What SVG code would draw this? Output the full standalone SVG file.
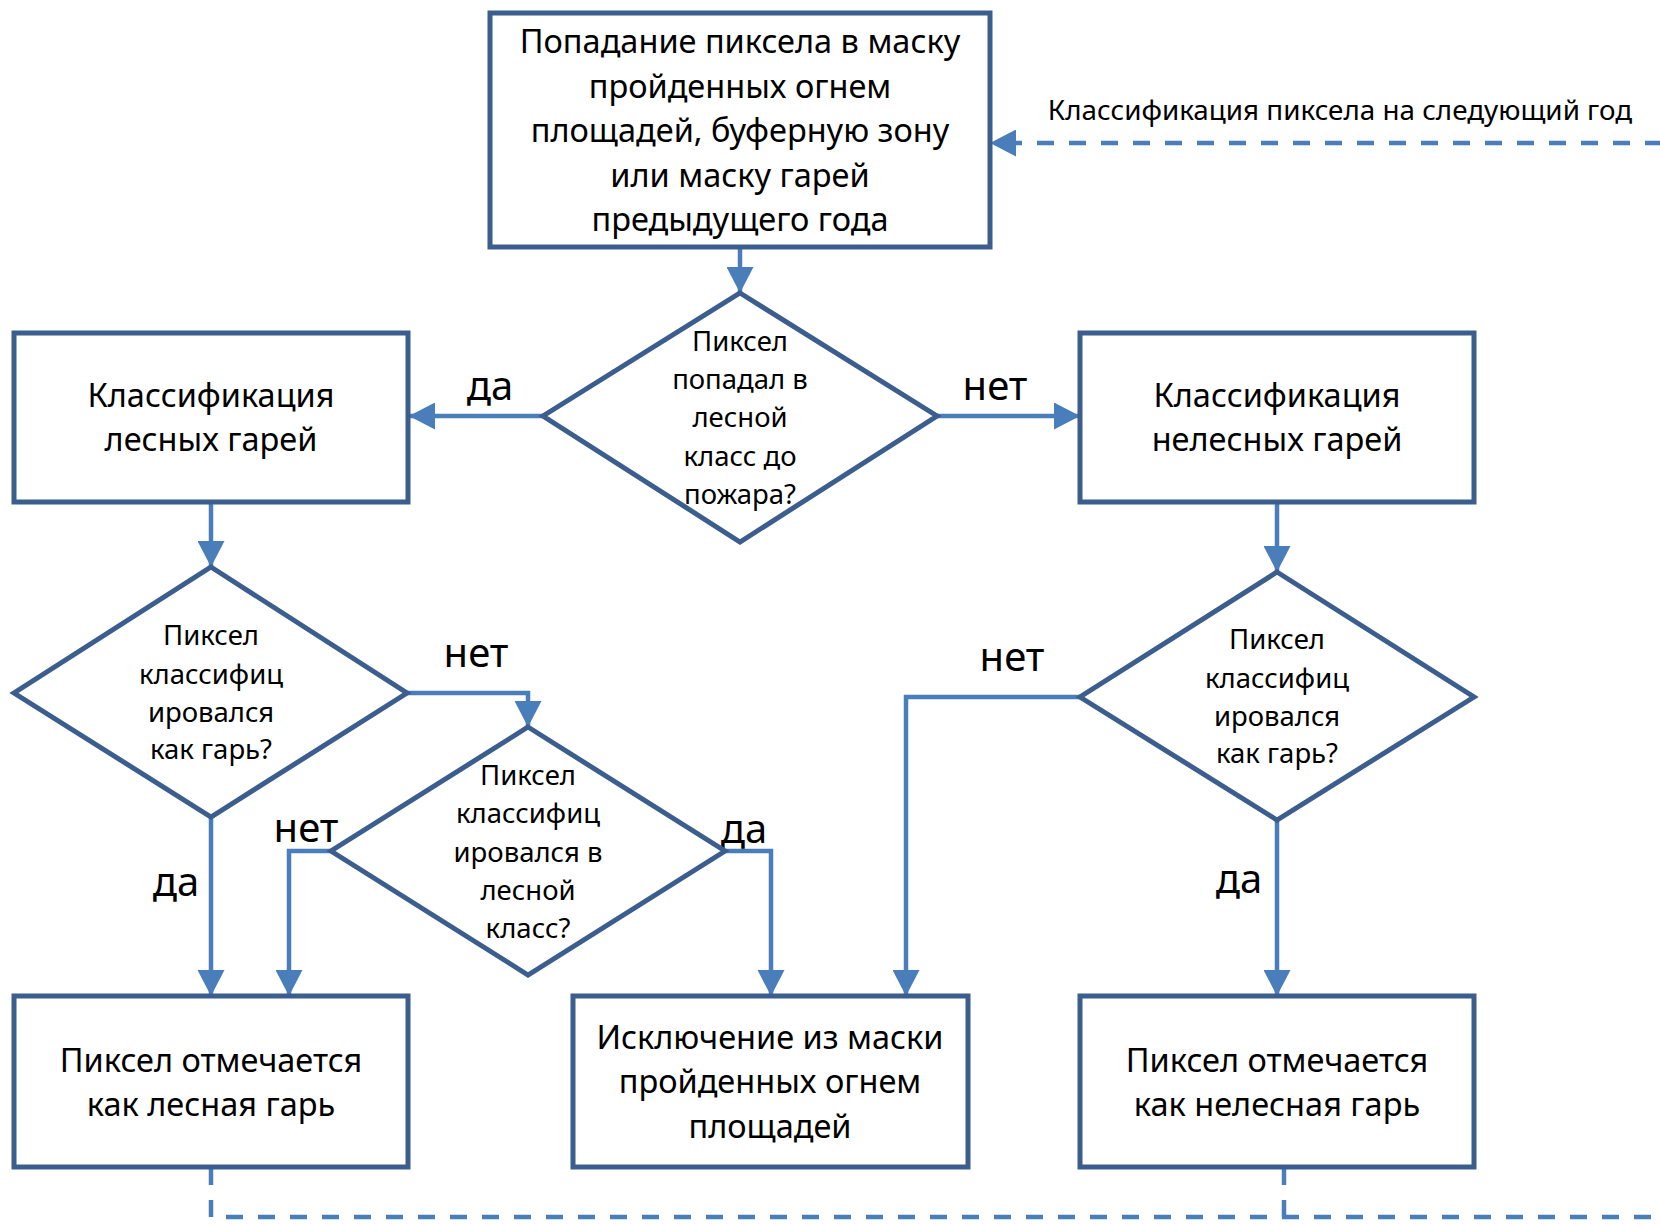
<svg xmlns="http://www.w3.org/2000/svg" width="1660" height="1224" viewBox="0 0 1660 1224">
<defs>
<style>
.n{fill:#fff;stroke:#3B5E8E;stroke-width:5;stroke-linejoin:miter}
.c{fill:none;stroke:#4A7EBB;stroke-width:4.5}
.d{fill:none;stroke:#4A7EBB;stroke-width:4.5;stroke-dasharray:17 15}
text{font-family:"Noto Sans","Open Sans","DejaVu Sans",sans-serif;fill:#000;text-anchor:middle}
.t1{font-size:32.5px}
.t2{font-size:27.5px}
.t3{font-size:27.8px}
.lb{font-size:40px}
</style>
<marker id="ah" viewBox="0 0 26 27" refX="26" refY="13.5" markerWidth="26" markerHeight="27" markerUnits="userSpaceOnUse" orient="auto">
<path d="M0,0 L26,13.5 L0,27 Z" fill="#4A7EBB"/>
</marker>
</defs>
<rect width="1660" height="1224" fill="#fff"/>

<g id="connectors">
<path class="c" d="M740,248 V293" marker-end="url(#ah)"/>
<path class="c" d="M543,416 H409" marker-end="url(#ah)"/>
<path class="c" d="M937,416 H1080" marker-end="url(#ah)"/>
<path class="c" d="M211,502 V567" marker-end="url(#ah)"/>
<path class="c" d="M407,693 H528 V727" marker-end="url(#ah)"/>
<path class="c" d="M211,817 V996" marker-end="url(#ah)"/>
<path class="c" d="M331,851 H289 V996" marker-end="url(#ah)"/>
<path class="c" d="M725,851 H771 V996" marker-end="url(#ah)"/>
<path class="c" d="M1277,502 V572" marker-end="url(#ah)"/>
<path class="c" d="M1080,697 H906 V996" marker-end="url(#ah)"/>
<path class="c" d="M1277,820 V996" marker-end="url(#ah)"/>
<path class="d" d="M211,1168 V1217 H1662"/>
<path class="d" d="M1284,1168 V1217"/>
<path class="d" d="M1662,143 H990" marker-end="url(#ah)"/>
<text class="lb" x="490" y="400">да</text>
<text class="lb" x="995" y="400">нет</text>
<text class="lb" x="476" y="667">нет</text>
<text class="lb" x="1012" y="671">нет</text>
<text class="lb" x="176" y="896">да</text>
<text class="lb" x="1239" y="893">да</text>
<text class="lb" x="306" y="842">нет</text>
<text class="lb" x="744" y="843">да</text>
<text class="t3" x="1340" y="120">Классификация пиксела на следующий год</text>
</g>

<g id="start">
<rect class="n" x="490" y="13" width="500" height="234"/>
<text class="t1" x="740" y="53">Попадание пиксела в маску</text>
<text class="t1" x="740" y="97.5">пройденных огнем</text>
<text class="t1" x="740" y="142">площадей, буферную зону</text>
<text class="t1" x="740" y="186.5">или маску гарей</text>
<text class="t1" x="740" y="231">предыдущего года</text>
</g>

<g id="q-forest-before">
<polygon class="n" points="740,293 937,416 740,542 543,416"/>
<text class="t2" x="740" y="351">Пиксел</text>
<text class="t2" x="740" y="389">попадал в</text>
<text class="t2" x="740" y="427">лесной</text>
<text class="t2" x="740" y="466">класс до</text>
<text class="t2" x="740" y="504">пожара?</text>
</g>

<g id="forest-class">
<rect class="n" x="14" y="333" width="394" height="169"/>
<text class="t1" x="211" y="407">Классификация</text>
<text class="t1" x="211" y="451">лесных гарей</text>
</g>

<g id="nonforest-class">
<rect class="n" x="1080" y="333" width="394" height="169"/>
<text class="t1" x="1277" y="407">Классификация</text>
<text class="t1" x="1277" y="451">нелесных гарей</text>
</g>

<g id="q-burn-forest">
<polygon class="n" points="211,567 407,693 211,817 14,693"/>
<text class="t2" x="211" y="645">Пиксел</text>
<text class="t2" x="211" y="684">классифиц</text>
<text class="t2" x="211" y="722">ировался</text>
<text class="t2" x="211" y="759">как гарь?</text>
</g>

<g id="q-forest-class">
<polygon class="n" points="528,727 725,851 528,975 331,851"/>
<text class="t2" x="528" y="785">Пиксел</text>
<text class="t2" x="528" y="823">классифиц</text>
<text class="t2" x="528" y="862">ировался в</text>
<text class="t2" x="528" y="900">лесной</text>
<text class="t2" x="528" y="938">класс?</text>
</g>

<g id="q-burn-nonforest">
<polygon class="n" points="1277,572 1474,697 1277,820 1080,697"/>
<text class="t2" x="1277" y="649">Пиксел</text>
<text class="t2" x="1277" y="688">классифиц</text>
<text class="t2" x="1277" y="726">ировался</text>
<text class="t2" x="1277" y="763">как гарь?</text>
</g>

<g id="forest-burn">
<rect class="n" x="14" y="996" width="394" height="171"/>
<text class="t1" x="211" y="1072">Пиксел отмечается</text>
<text class="t1" x="211" y="1116">как лесная гарь</text>
</g>

<g id="exclude">
<rect class="n" x="573" y="996" width="395" height="171"/>
<text class="t1" x="770" y="1049">Исключение из маски</text>
<text class="t1" x="770" y="1093">пройденных огнем</text>
<text class="t1" x="770" y="1138">площадей</text>
</g>

<g id="nonforest-burn">
<rect class="n" x="1080" y="996" width="394" height="171"/>
<text class="t1" x="1277" y="1072">Пиксел отмечается</text>
<text class="t1" x="1277" y="1116">как нелесная гарь</text>
</g>
</svg>
